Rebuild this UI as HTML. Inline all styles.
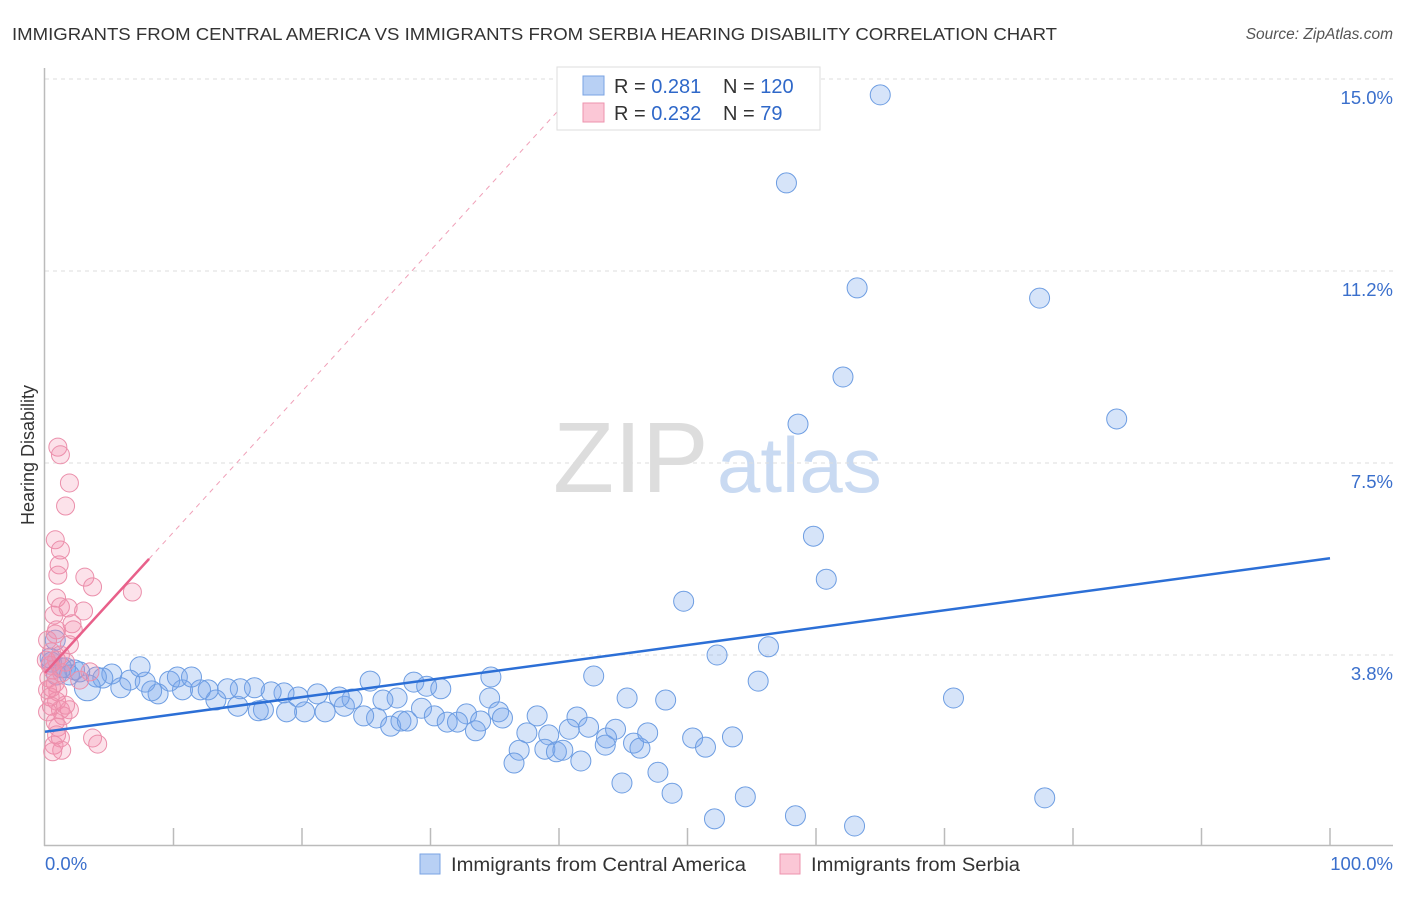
<!DOCTYPE html>
<html><head><meta charset="utf-8"><style>
body{margin:0;background:#fff;font-family:"Liberation Sans",sans-serif}
svg text{font-family:"Liberation Sans",sans-serif}
</style></head><body>
<svg id="chart" width="1406" height="892" xmlns="http://www.w3.org/2000/svg">
<text x="12" y="40" font-size="17.5" fill="#333" textLength="1045" lengthAdjust="spacingAndGlyphs">IMMIGRANTS FROM CENTRAL AMERICA VS IMMIGRANTS FROM SERBIA HEARING DISABILITY CORRELATION CHART</text>
<text x="1393" y="39" font-size="15.5" fill="#555" font-style="italic" text-anchor="end">Source: ZipAtlas.com</text>
<g>
<text x="553" y="492" font-size="100" fill="#ddd" font-family="Liberation Serif, serif">ZIP</text>
<text x="717" y="492" font-size="78" fill="#c9daf2">atlas</text>
</g>
<g id="grid"></g>
<g id="axes"></g>
<g id="marks"></g>
<g>
<rect x="557" y="67" width="263" height="63" fill="#fff" stroke="#ddd"/>
<rect x="583" y="76" width="21" height="19" fill="#b8d0f4" stroke="#7aa3e3"/>
<rect x="583" y="103" width="21" height="19" fill="#fbc7d6" stroke="#ee93ae"/>
<text x="614" y="93" font-size="20" fill="#333">R = <tspan fill="#2f68c9">0.281</tspan></text>
<text x="723" y="93" font-size="20" fill="#333">N = <tspan fill="#2f68c9">120</tspan></text>
<text x="614" y="120" font-size="20" fill="#333">R = <tspan fill="#2f68c9">0.232</tspan></text>
<text x="723" y="120" font-size="20" fill="#333">N = <tspan fill="#2f68c9">  79</tspan></text>
</g>
<g>
<rect x="420" y="854" width="20" height="20" fill="#b8d0f4" stroke="#7aa3e3"/>
<text x="451" y="871" font-size="19" fill="#333" textLength="295" lengthAdjust="spacingAndGlyphs">Immigrants from Central America</text>
<rect x="780" y="854" width="20" height="20" fill="#fbc7d6" stroke="#ee93ae"/>
<text x="811" y="871" font-size="19" fill="#333" textLength="209" lengthAdjust="spacingAndGlyphs">Immigrants from Serbia</text>
</g>
<text transform="translate(34,455) rotate(-90)" font-size="18" fill="#333" text-anchor="middle">Hearing Disability</text>
</svg>
<script>
const yTicks=[15.0,11.25,7.5,3.75];
const yTickLabels=["15.0%","11.2%","7.5%","3.8%"];
const xTickLabels=["0.0%","100.0%"];
const blueX=[65.0,57.7,63.2,77.4,62.1,58.6,83.4,59.8,60.8,49.7,52.3,56.3,55.5,70.7,42.7,45.3,48.3,34.7,34.6,25.3,28.7,29.7,30.8,27.4,26.3,29.3,35.3,35.6,38.3,41.4,32.8,30.3,31.3,32.1,33.9,33.5,37.5,39.2,40.8,42.3,44.4,43.7,43.6,45.8,46.3,46.9,50.4,51.4,53.5,36.9,36.5,38.9,39.8,40.3,41.7,47.7,44.9,48.8,54.5,52.1,58.4,63.0,77.8,25.8,26.9,27.7,28.2,24.8,23.3,23.9,22.9,21.8,20.2,18.8,17.0,16.6,15.0,13.3,19.7,21.2,18.6,17.6,16.3,15.2,14.2,12.7,12.1,10.7,8.8,8.3,5.9,6.6,7.8,9.7,10.3,11.4,7.4,5.2,4.5,4.0,3.3,2.3,1.6,0.8,0.5,0.4,0.9,1.3,1.9,2.7];
const blueY=[14.69,12.97,10.92,10.72,9.18,8.26,8.36,6.07,5.23,4.80,3.75,3.91,3.24,2.91,3.34,2.91,2.87,3.32,2.91,3.24,3.22,3.14,3.09,2.91,2.87,2.71,2.64,2.52,2.56,2.54,2.60,2.56,2.44,2.44,2.46,2.27,2.23,2.19,2.30,2.34,2.30,2.13,1.99,2.03,1.93,2.23,2.13,1.95,2.15,1.89,1.64,1.91,1.86,1.89,1.68,1.46,1.25,1.05,0.98,0.55,0.61,0.41,0.96,2.52,2.36,2.46,2.46,2.56,2.75,2.89,2.93,2.64,2.64,2.64,2.68,2.66,2.75,2.87,2.93,2.99,3.01,3.03,3.11,3.09,3.09,3.07,3.07,3.07,2.99,3.05,3.11,3.26,3.22,3.24,3.32,3.32,3.52,3.38,3.30,3.32,3.11,3.46,3.50,4.04,3.61,3.69,3.36,3.50,3.36,3.42];
const pinkX=[1.0,1.2,1.9,1.6,0.8,1.2,1.1,1.0,3.1,3.7,6.8,0.9,1.2,1.8,3.0,0.7,2.1,0.9,2.2,0.8,1.9,0.5,1.2,0.9,1.6,0.4,0.6,1.3,0.3,0.8,0.5,1.0,0.4,0.9,0.5,1.2,1.9,1.4,0.8,1.0,0.9,1.2,0.7,1.3,3.7,4.1,2.7,3.5,0.2,0.2,0.6,1.6,0.1,0.2];
const pinkY=[7.81,7.66,7.11,6.66,6.00,5.80,5.51,5.31,5.27,5.08,4.98,4.86,4.69,4.67,4.61,4.53,4.36,4.24,4.24,4.16,3.95,3.81,3.75,3.65,3.61,3.55,3.46,3.40,3.30,3.20,3.11,3.03,2.93,2.85,2.75,2.68,2.68,2.56,2.44,2.34,2.19,2.13,1.99,1.89,2.13,2.01,3.26,3.42,3.07,2.64,1.86,2.77,3.65,4.04];
const blueTrend=[2.25,5.64];
const pinkTrend=[3.40,8.1,40.5];
const NS="http://www.w3.org/2000/svg";
function sx(v){return 45+v*12.85;}
function sy(v){return 847-v*51.2;}
function mk(tag,attrs,parent){const e=document.createElementNS(NS,tag);for(const k in attrs)e.setAttribute(k,attrs[k]);parent.appendChild(e);return e;}
const grid=document.getElementById('grid'),axes=document.getElementById('axes'),marks=document.getElementById('marks');
yTicks.forEach((t,i)=>{
 const l=mk('line',{x1:45,x2:1393,y1:sy(t),y2:sy(t),stroke:'#ddd','stroke-dasharray':'4,4'},grid);
 
 
 const tx=mk('text',{x:1393,y:sy(t)+25,'font-size':18.5,fill:'#3a6fcc','text-anchor':'end'},axes);
 tx.textContent=yTickLabels[i];
 
 
});
mk('line',{x1:44.5,x2:44.5,y1:68,y2:846,stroke:'#bbb','stroke-width':1.5},axes);
mk('line',{x1:44,x2:1393,y1:845.5,y2:845.5,stroke:'#bbb','stroke-width':1.5},axes);
for(let i=1;i<=10;i++){const t=mk('line',{x1:sx(i*10),x2:sx(i*10),y1:828,y2:845,stroke:'#bbb','stroke-width':1.5},axes);
 
 }
const xl0=mk('text',{x:45,y:870,'font-size':18.5,fill:'#3a6fcc'},axes);xl0.textContent=xTickLabels[0];


const xl1=mk('text',{x:1393,y:870,'font-size':18.5,fill:'#3a6fcc','text-anchor':'end'},axes);xl1.textContent=xTickLabels[1];


const pd=mk('line',{x1:sx(pinkTrend[1]),y1:sy(pinkTrend[0]+0.275*pinkTrend[1]),x2:sx(pinkTrend[2]),y2:sy(pinkTrend[0]+0.275*pinkTrend[2]),stroke:'#f0a0b8','stroke-dasharray':'5,5'},marks);


blueX.forEach((x,i)=>{const c=mk('circle',{cx:sx(x),cy:sy(blueY[i]),r:(x===3.3?13:10),fill:'rgba(120,165,235,0.3)',stroke:'#6d9de2','stroke-width':1},marks);
 
 });
pinkX.forEach((x,i)=>{const c=mk('circle',{cx:sx(x),cy:sy(pinkY[i]),r:9,fill:'rgba(245,140,170,0.25)',stroke:'#eb8fab','stroke-width':1},marks);
 
 });
const bl=mk('line',{x1:sx(0),y1:sy(blueTrend[0]),x2:sx(100),y2:sy(blueTrend[1]),stroke:'#2c6fd6','stroke-width':2.5},marks);


const pl=mk('line',{x1:sx(0),y1:sy(pinkTrend[0]),x2:sx(pinkTrend[1]),y2:sy(pinkTrend[0]+0.275*pinkTrend[1]),stroke:'#e8608a','stroke-width':2.5},marks);


</script>
</body></html>
